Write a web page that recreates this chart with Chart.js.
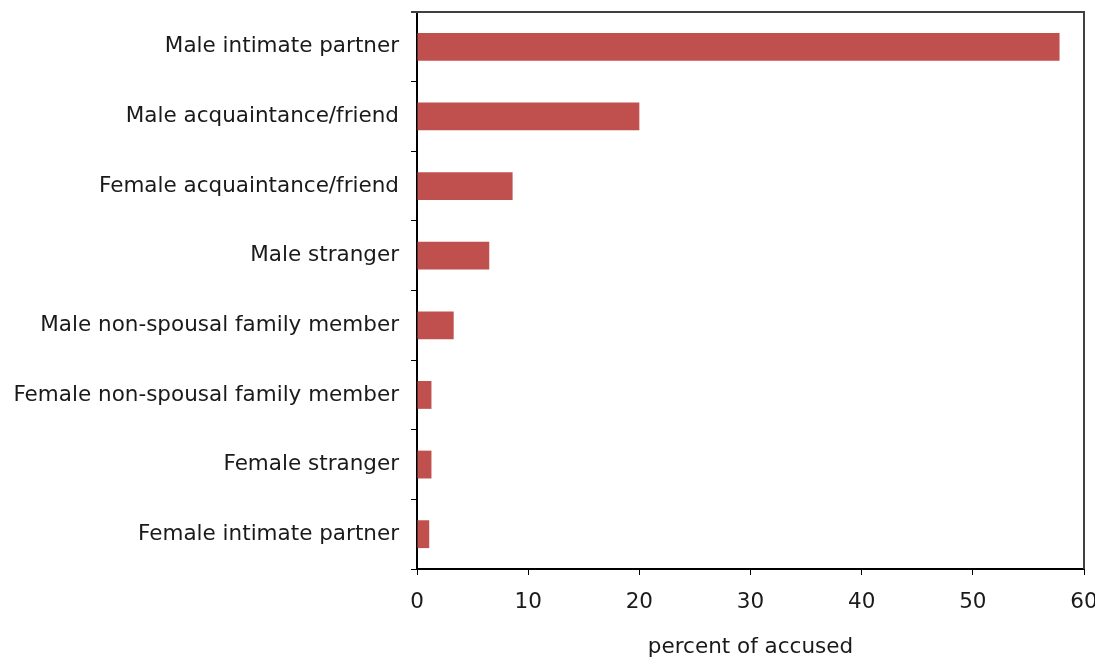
<!DOCTYPE html>
<html>
<head>
<meta charset="utf-8">
<script src="https://cdn.jsdelivr.net/npm/chart.js@4.4.0/dist/chart.umd.min.js"></script>
<style>
  html, body { margin: 0; padding: 0; background: #fff; }
  #wrap { width: 1095px; height: 658px; }
</style>
</head>
<body>
<div id="wrap"><canvas id="grafico"></canvas></div>
<script>
// dados
const categorias = [
    'Male intimate partner',
    'Male acquaintance/friend',
    'Female acquaintance/friend',
    'Male stranger',
    'Male non-spousal family member',
    'Female non-spousal family member',
    'Female stranger',
    'Female intimate partner'
];
const percentuais = [57.8, 20.0, 8.6, 6.5, 3.3, 1.3, 1.3, 1.1];
const ticksX = [0, 10, 20, 30, 40, 50, 60];

// moldura em cima e na direita
const moldura = {
    id: 'moldura',
    afterDraw(chart) {
        const { ctx, chartArea } = chart;
        ctx.save();
        ctx.strokeStyle = '#404040';
        ctx.lineWidth = 2;
        ctx.beginPath();
        ctx.moveTo(chartArea.left - 6, chartArea.top);
        ctx.lineTo(chartArea.right, chartArea.top);
        ctx.lineTo(chartArea.right, chartArea.bottom);
        ctx.stroke();
        ctx.restore();
    }
};

Chart.defaults.font.family = "'DejaVu Sans', Verdana, sans-serif";
Chart.defaults.font.size = 21.5;
Chart.defaults.color = '#1a1a1a';

new Chart(document.getElementById('grafico'), {
    type: 'bar',
    data: {
        labels: categorias,
        datasets: [{
            label: 'percent of accused',
            data: percentuais,
            backgroundColor: '#c0504d',
            categoryPercentage: 1,
            barPercentage: 0.4
        }]
    },
    options: {
        indexAxis: 'y',
        responsive: true,
        maintainAspectRatio: false,
        animation: false,
        layout: { padding: { top: 12, right: 11, left: 0, bottom: 0 } },
        plugins: {
            legend: { display: false },
            tooltip: { enabled: false }
        },
        scales: {
            x: {
                min: 0,
                max: 60,
                afterBuildTicks(scale) {
                    scale.ticks = ticksX.map(v => ({ value: v }));
                },
                afterFit(scale) {
                    scale.height = 89;
                    scale.paddingLeft = 0;
                    scale.paddingRight = 0;
                },
                grid: {
                    drawOnChartArea: false,
                    drawTicks: true,
                    tickLength: 6,
                    color: '#000'
                },
                border: { display: true, color: '#000', width: 2 },
                ticks: { padding: 15 },
                title: {
                    display: true,
                    text: 'percent of accused',
                    padding: { top: 10, bottom: -2 }
                }
            },
            y: {
                afterFit(scale) {
                    scale.width = 417;
                    scale.paddingTop = 0;
                    scale.paddingBottom = 0;
                },
                grid: {
                    offset: true,
                    drawOnChartArea: false,
                    drawTicks: true,
                    tickLength: 6,
                    color: '#000'
                },
                border: { display: true, color: '#000', width: 2 },
                ticks: { padding: 12 }
            }
        }
    },
    plugins: [moldura]
});
</script>
</body>
</html>
